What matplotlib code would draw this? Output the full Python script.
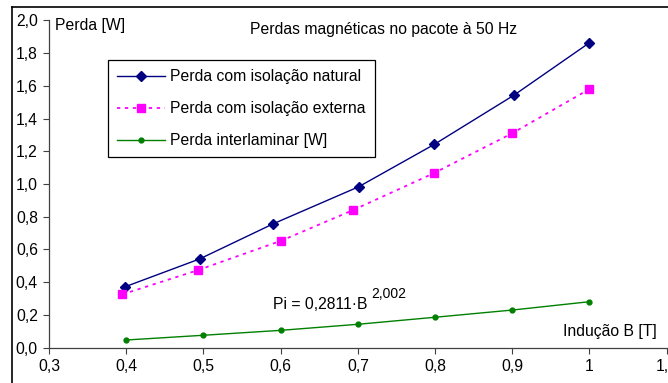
import matplotlib
matplotlib.use("Agg")
import matplotlib.pyplot as plt
from matplotlib.lines import Line2D
from matplotlib.ticker import FuncFormatter

plt.rcParams['font.family'] = ['Liberation Sans', 'DejaVu Sans']
plt.rcParams['font.size'] = 11.3

# data
B_nat = [0.399, 0.495, 0.590, 0.701, 0.799, 0.902, 1.0]
P_nat = [0.373, 0.542, 0.756, 0.983, 1.242, 1.542, 1.863]
B_ext = [0.395, 0.4925, 0.601, 0.694, 0.798, 0.900, 1.0]
P_ext = [0.326, 0.473, 0.654, 0.841, 1.065, 1.310, 1.580]
B_int = [0.4, 0.5, 0.6, 0.7, 0.8, 0.9, 1.0]
P_int = [0.047, 0.076, 0.106, 0.143, 0.186, 0.230, 0.281]

x_ticks = [0.3, 0.4, 0.5, 0.6, 0.7, 0.8, 0.9, 1.0, 1.1]
y_ticks = [0.0, 0.2, 0.4, 0.6, 0.8, 1.0, 1.2, 1.4, 1.6, 1.8, 2.0]

fig = plt.figure(figsize=(6.68, 3.83), dpi=100)
ax = fig.add_axes([49 / 668, 1 - 347.7 / 383, (666.7 - 49) / 668, (347.7 - 20.3) / 383])

ax.plot(B_nat, P_nat, color="#000080", lw=1.0, marker="D", ms=5.5,
        label="Perda com isolação natural")
ax.plot(B_ext, P_ext, color="#FF00FF", lw=1.3, ls=(0, (1.8, 2.6)), marker="s", ms=6,
        label="Perda com isolação externa")
ax.plot(B_int, P_int, color="#008000", lw=1.0, marker="o", ms=3.5,
        label="Perda interlaminar [W]")

ax.set_xlim(0.3, 1.1)
ax.set_ylim(0.0, 2.0)
ax.set_xticks(x_ticks)
ax.set_yticks(y_ticks)
ax.xaxis.set_major_formatter(FuncFormatter(lambda v, p: ("%g" % round(v, 2)).replace(".", ",")))
ax.yaxis.set_major_formatter(FuncFormatter(lambda v, p: ("%.1f" % v).replace(".", ",")))
ax.tick_params(direction="out", length=4, width=0.8, color="#404040", pad=4, labelsize=11.3)

for s in ["top", "right"]:
    ax.spines[s].set_visible(False)
for s in ["left", "bottom"]:
    ax.spines[s].set_color("#404040")
    ax.spines[s].set_linewidth(0.9)

ax.text(0.733, 1.941, "Perdas magnéticas no pacote à 50 Hz", ha="center", va="center")
ax.text(0.308, 1.971, "Perda [W]", ha="left", va="center")
ax.text(1.087, 0.100, "Indução B [T]", ha="right", va="center")
ax.text(0.590, 0.265, "Pi = 0,2811·B", ha="left", va="center")
ax.text(0.718, 0.326, "2,002", ha="left", va="center", fontsize=10)

leg = ax.legend(loc="upper left", bbox_to_anchor=(108 / 668, 1 - 60 / 383),
                bbox_transform=fig.transFigure, borderaxespad=0, fancybox=False,
                framealpha=1, edgecolor="black", handlelength=3.0,
                handletextpad=0.36, borderpad=0.6, labelspacing=1.07, fontsize=11.3)
leg.get_frame().set_linewidth(0.9)

# outer chart border (left and top visible)
fig.add_artist(Line2D([11.5 / 668, 11.5 / 668], [0, 1 - 6.5 / 383], color="black", lw=1.2))
fig.add_artist(Line2D([11.5 / 668, 1], [1 - 6.5 / 383, 1 - 6.5 / 383], color="black", lw=1.2))

fig.savefig("out.png", dpi=100)
